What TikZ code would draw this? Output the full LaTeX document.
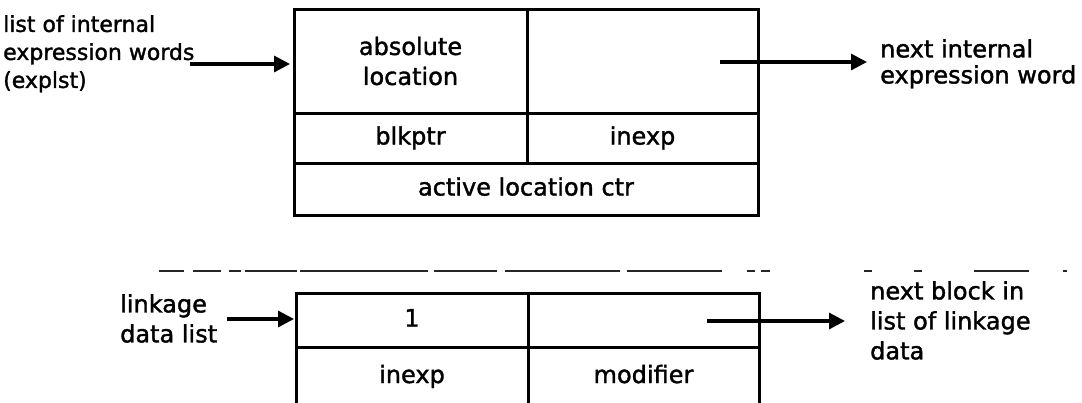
\documentclass[tikz,border=0pt]{standalone}
\usepackage{fontspec}
\setmainfont{DejaVu Sans}[FakeBold=1.5]
\usetikzlibrary{arrows.meta}
\begin{document}
\begin{tikzpicture}[x=1pt,y=-1pt,
  lblA/.style={font=\fontsize{22}{28}\selectfont, inner sep=0pt, align=left, anchor=north west},
  lblB/.style={font=\fontsize{24}{26}\selectfont, inner sep=0pt, align=left, anchor=north west},
  lblC/.style={font=\fontsize{24}{30}\selectfont, inner sep=0pt, align=left, anchor=north west},
  cell/.style={draw, line width=3pt, inner sep=0pt, align=center,
               font=\fontsize{24}{30}\selectfont},
  one/.style={text height=18pt, text depth=5pt},
  arr/.style={line width=3.2pt, -{Triangle[length=16pt,width=16pt]}},
  sep/.style={line width=1.8pt, draw=black!85}]
\useasboundingbox (0,0) rectangle (1082,402);

% ---- top block ----
\node[cell, minimum width=233pt, minimum height=104pt] (c11) at (410.5,61) {absolute\\location};
\node[cell, minimum width=231pt, minimum height=104pt] (c12) at (642.5,61) {};
\node[cell, one, minimum width=233pt, minimum height=50pt]  (c21) at (410.5,138) {blkptr};
\node[cell, one, minimum width=231pt, minimum height=50pt]  (c22) at (642.5,138) {inexp};
\node[cell, one, minimum width=464pt, minimum height=52pt]  (c3)  at (526,189) {active location ctr};

\node[lblA] (tl) at (3,15) {list of internal\\expression words\\(explst)};
\node[lblB] (tr) at (880,39) {next internal\\expression word};

\coordinate (tlA) at (190,64);
\coordinate (tlB) at (290,64);
\draw[arr] (tlA) -- (tlB);
\coordinate (trA) at (720,62);
\coordinate (trB) at (867,62);
\draw[arr] (trA) -- (trB);

% ---- separator ----
\draw[sep, dash pattern=on 25pt off 9pt on 28pt off 8pt on 12pt off 4pt on 52pt off 3pt
  on 128pt off 6pt on 63pt off 8pt on 115pt off 7pt on 95pt off 25pt on 8pt off 6pt
  on 9pt off 94pt on 8pt off 42pt on 8pt off 52pt on 55pt off 34pt on 4pt off 10pt]
  (159,271) -- (1068,271);

% ---- bottom block ----
\node[cell, one, minimum width=232pt, minimum height=54pt] (d11) at (412,320) {1};
\node[cell, minimum width=231pt, minimum height=54pt] (d12) at (643.5,320) {};
\node[cell, one, minimum width=232pt, minimum height=59pt] (d21) at (412,376.5) {inexp};
\node[cell, one, minimum width=231pt, minimum height=59pt] (d22) at (643.5,376.5) {modifier};

\node[lblC] (bl) at (120,294) {linkage\\data list};
\node[lblC] (br) at (870,281) {next block in\\list of linkage\\data};

\coordinate (blA) at (227,319);
\coordinate (blB) at (294,319);
\draw[arr] (blA) -- (blB);
\coordinate (brA) at (707,321);
\coordinate (brB) at (845,321);
\draw[arr] (brA) -- (brB);
\end{tikzpicture}
\end{document}
